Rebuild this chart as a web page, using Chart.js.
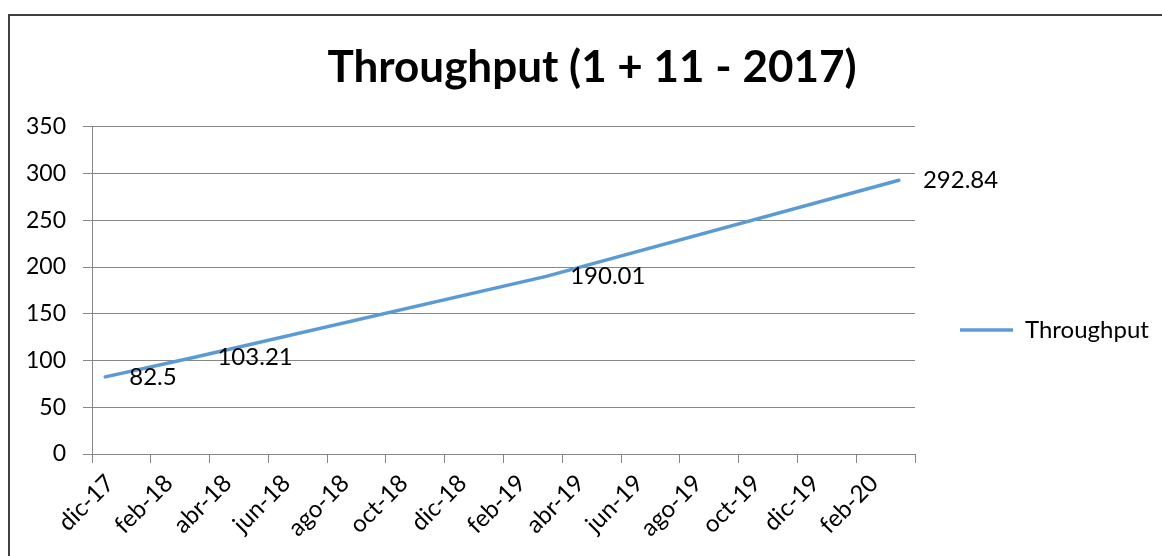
<!DOCTYPE html>
<html lang="es">
<head>
<meta charset="UTF-8">
<title>Throughput (1 + 11 - 2017)</title>
<script src="https://cdn.jsdelivr.net/npm/chart.js@4.4.1/dist/chart.umd.min.js"></script>
<style>
  body { margin: 0; background: #fff; overflow: hidden; }
  .frame {
    position: absolute; left: 8px; top: 14px;
    width: 1200px; height: 600px;
    border: 2px solid #404040;
  }
  #chart { position: absolute; left: 0; top: 0; }
</style>
</head>
<body>
<div class="frame"></div>
<canvas id="chart" width="1184" height="556"></canvas>
<script>
// data
const dates = ['2017-12-15', '2018-03-15', '2019-03-15', '2020-03-15'];
const throughput = [82.5, 103.21, 190.01, 292.84];
const monthLabels = ['dic-17', 'feb-18', 'abr-18', 'jun-18', 'ago-18', 'oct-18', 'dic-18',
  'feb-19', 'abr-19', 'jun-19', 'ago-19', 'oct-19', 'dic-19', 'feb-20', ''];
const yTicks = [0, 50, 100, 150, 200, 250, 300, 350];

const FONT = 'Lato, "DejaVu Sans", sans-serif';
const GRID = '#868686';

// months since 1 dic 2017, fractional by day
function monthsFrom(s) {
  const [y, m, d] = s.split('-').map(Number);
  const dim = new Date(y, m, 0).getDate();
  return (y - 2017) * 12 + (m - 12) + (d - 1) / dim;
}

const valueLabels = {
  id: 'valueLabels',
  afterDatasetsDraw(chart) {
    const ctx = chart.ctx;
    const meta = chart.getDatasetMeta(0);
    ctx.save();
    ctx.font = '24px ' + FONT;
    ctx.fillStyle = '#000';
    ctx.textAlign = 'left';
    ctx.textBaseline = 'middle';
    meta.data.forEach((pt, i) => ctx.fillText(String(throughput[i]), pt.x + 24, pt.y));
    ctx.restore();
  }
};

// fixed legend box so the plot and title line up like the original
const legendBox = {
  id: 'legendBox',
  beforeLayout(chart) {
    const lg = chart.legend;
    if (lg && !lg._fixed) {
      const fit = lg.fit;
      lg.fit = function () { fit.call(this); this.width = 250; };
      lg._fixed = true;
    }
  },
  afterLayout(chart) {
    const lg = chart.legend;
    const h = 60;
    lg.left = 950; lg.right = lg.left + lg.width;
    lg.top = 330 - h / 2; lg.bottom = lg.top + h;
  }
};

new Chart(document.getElementById('chart'), {
  type: 'line',
  data: {
    datasets: [{
      label: 'Throughput',
      data: dates.map((d, i) => ({ x: monthsFrom(d), y: throughput[i] })),
      borderColor: '#5B9BD5',
      backgroundColor: '#5B9BD5',
      borderWidth: 3.5,
      borderCapStyle: 'round',
      pointRadius: 0,
      tension: 0,
      fill: false
    }]
  },
  options: {
    responsive: false,
    animation: false,
    layout: { padding: { left: 19, right: 19, top: 0, bottom: 0 } },
    scales: {
      x: {
        type: 'linear',
        min: 0,
        max: (monthLabels.length - 1) * 2,
        afterBuildTicks: s => { s.ticks = monthLabels.map((_, i) => ({ value: i * 2 })); },
        afterFit: s => { s.height = 102; },
        ticks: {
          autoSkip: false,
          maxRotation: 45,
          minRotation: 45,
          padding: 6,
          labelOffset: 18,
          color: '#000',
          font: { family: FONT, size: 24 },
          callback: v => monthLabels[Math.round(v / 2)]
        },
        grid: { drawOnChartArea: false, drawTicks: true, tickLength: 9, color: GRID },
        border: { color: GRID }
      },
      y: {
        min: 0,
        max: 350,
        afterBuildTicks: s => { s.ticks = yTicks.map(v => ({ value: v })); },
        afterFit: s => { s.width = 73; },
        ticks: { padding: 17, color: '#000', font: { family: FONT, size: 23 } },
        grid: { color: GRID, tickLength: 9 },
        border: { color: GRID }
      }
    },
    plugins: {
      title: {
        display: true,
        text: 'Throughput (1 + 11 - 2017)',
        color: '#000',
        font: { family: FONT, size: 44, weight: 'bold' },
        padding: { top: 41, bottom: 33 }
      },
      legend: {
        position: 'right',
        labels: {
          usePointStyle: true,
          pointStyle: 'line',
          pointStyleWidth: 53,
          padding: 10,
          color: '#000',
          font: { family: FONT, size: 24 }
        }
      },
      tooltip: { enabled: false }
    }
  },
  plugins: [valueLabels, legendBox]
});
</script>
</body>
</html>
